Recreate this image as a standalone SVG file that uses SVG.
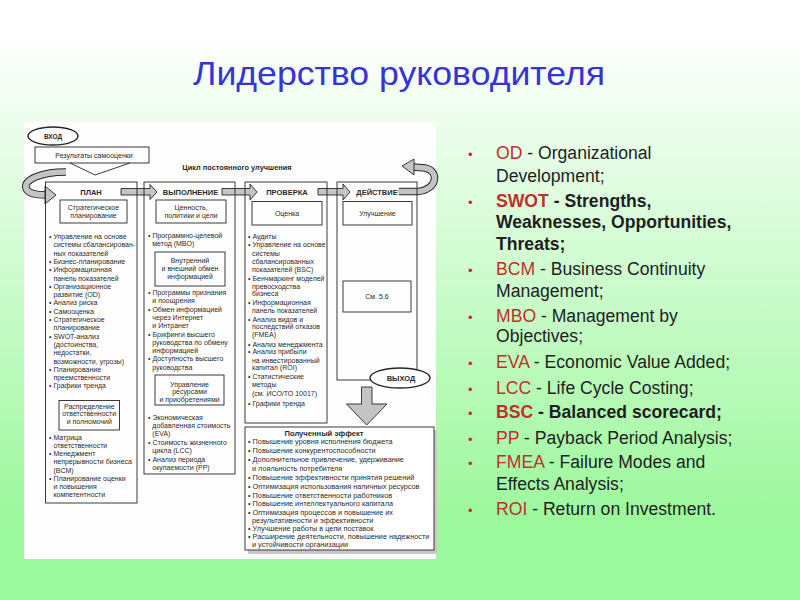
<svg xmlns="http://www.w3.org/2000/svg" width="800" height="600" viewBox="0 0 800 600">
<defs>
<linearGradient id="bg" gradientUnits="userSpaceOnUse" x1="0" y1="30" x2="0" y2="520">
<stop offset="0" stop-color="#ffffff"/>
<stop offset="1" stop-color="#9cf89c"/>
</linearGradient>
<style>
.s{font-family:"Liberation Sans",Arial,sans-serif;font-size:7px;fill:#2b2b2b}
.e{font-size:7.3px}
.b{font-weight:bold}
.c{text-anchor:middle}
.ln{fill:none;stroke:#262626;stroke-width:0.9}
.blk{fill:#c4c4c4;stroke:#262626;stroke-width:0.9;stroke-linejoin:miter}
.l{font-family:"Liberation Sans",Arial,sans-serif;font-size:17.6px;fill:#1e1e1e}
.r{fill:#c0302a}
.bul{font-family:"Liberation Sans",Arial,sans-serif;font-size:13px;fill:#c0302a}
</style>
</defs>
<rect x="0" y="0" width="800" height="600" fill="url(#bg)"/>
<g id="title">
<text x="193" y="85" textLength="412" lengthAdjust="spacingAndGlyphs" style="font-family:'Liberation Sans',Arial,sans-serif;font-size:33px;fill:#3535d6">Лидерство руководителя</text>
</g>
<g id="scan">
<rect x="24" y="122" width="412" height="437" fill="#fefefe"/>
<g id="connectors">
<path d="M70,163 L95,175 L130,163" class="ln"/>
<path d="M66,172 C40,172 24,180 26,188 C28,194 36,195 46,195" fill="none" stroke="#262626" stroke-width="7.5"/>
<path d="M66,172 C40,172 24,180 26,188 C28,194 36,195 46,195" fill="none" stroke="#c4c4c4" stroke-width="5.6"/>
<polygon class="blk" points="45,186 56,195 45,204"/>
<polygon class="blk" points="121,188.5 150,188.5 150,184.5 157,192 150,199.5 150,195 121,195"/>
<polygon class="blk" points="222,188.5 250,188.5 250,184 257,192 250,200 250,195 222,195"/>
<polygon class="blk" points="318,188.5 343,188.5 343,184 350,192 343,200 343,195 318,195"/>
<path d="M399,191.5 L418,191.5 C437,190 440,171 425,168 L413,167" fill="none" stroke="#262626" stroke-width="7.5"/>
<path d="M398,191.5 L418,191.5 C437,190 440,171 425,168 L412,167" fill="none" stroke="#c4c4c4" stroke-width="5.6"/>
<polygon class="blk" points="414,159 414,175 402,166"/>
<polygon class="blk" points="361.5,387 372,387 372,404 387,404 366.7,425 346.5,404 361.5,404"/>
</g>
<g id="vhod">
<ellipse cx="53" cy="136" rx="25" ry="9" fill="#fff" stroke="#262626" stroke-width="1.4"/>
<text class="s b c" x="53" y="138.5" style="font-size:6.5px">ВХОД</text>
</g>
<g id="results">
<rect x="35" y="147" width="114" height="16" class="ln"/>
<text class="s c" x="94" y="157.5">Результаты самооценки</text>
</g>
<text class="s b c" x="237" y="169.5" style="font-size:7.4px">Цикл постоянного улучшения</text>
<g id="plan">
<rect x="45.5" y="182" width="91.5" height="321" class="ln"/>
<text class="s b c" x="91" y="195" style="font-size:7.5px">ПЛАН</text>
<rect x="60" y="200" width="67" height="23" class="ln"/>
<text class="s c" x="93.5" y="209.5">Стратегическое</text>
<text class="s c" x="93.5" y="218">планирование</text>
<text class="s" x="49" y="239">• Управление на основе</text>
<text class="s" x="53.4" y="247.3">системы сбалансирован-</text>
<text class="s" x="53.4" y="255.6">ных показателей</text>
<text class="s" x="49" y="263.9">• Бизнес-планирование</text>
<text class="s" x="49" y="272.2">• Информационная</text>
<text class="s" x="53.4" y="280.5">панель показателей</text>
<text class="s" x="49" y="288.8">• Организационное</text>
<text class="s" x="53.4" y="297.1">развитие (OD)</text>
<text class="s" x="49" y="305.4">• Анализ риска</text>
<text class="s" x="49" y="313.7">• Самооценка</text>
<text class="s" x="49" y="322">• Стратегическое</text>
<text class="s" x="53.4" y="330.3">планирование</text>
<text class="s" x="49" y="338.6">• SWOT-анализ</text>
<text class="s" x="53.4" y="346.9">(достоинства,</text>
<text class="s" x="53.4" y="355.2">недостатки,</text>
<text class="s" x="53.4" y="363.5">возможности, угрозы)</text>
<text class="s" x="49" y="371.8">• Планирование</text>
<text class="s" x="53.4" y="380.1">преемственности</text>
<text class="s" x="49" y="388.4">• Графики тренда</text>
<rect x="59" y="400.5" width="60.5" height="29.5" class="ln"/>
<text class="s c" x="89.3" y="408.5">Распределение</text>
<text class="s c" x="89.3" y="416.2">ответственности</text>
<text class="s c" x="89.3" y="424">и полномочий</text>
<text class="s" x="49" y="439.8">• Матрица</text>
<text class="s" x="53.4" y="448">ответственности</text>
<text class="s" x="49" y="456.2">• Менеджмент</text>
<text class="s" x="53.4" y="464.4">непрерывности бизнеса</text>
<text class="s" x="53.4" y="472.6">(BCM)</text>
<text class="s" x="49" y="480.8">• Планирование оценки</text>
<text class="s" x="53.4" y="489">и повышения</text>
<text class="s" x="53.4" y="497.2">компетентности</text>
</g>
<g id="vypolnenie">
<rect x="144" y="182" width="91" height="292" class="ln"/>
<text class="s b c" x="190.5" y="194.5" style="font-size:7.5px">ВЫПОЛНЕНИЕ</text>
<rect x="156" y="200" width="70" height="23" class="ln"/>
<text class="s c" x="191" y="209.5">Ценность,</text>
<text class="s c" x="191" y="218">политики и цели</text>
<text class="s" x="148" y="237.5">• Программно-целевой</text>
<text class="s" x="152.3" y="245.5">метод (MBO)</text>
<rect x="155" y="252" width="70" height="34" class="ln"/>
<text class="s c" x="190" y="262.5">Внутренний</text>
<text class="s c" x="190" y="270.8">и внешний обмен</text>
<text class="s c" x="190" y="278.8">информацией</text>
<text class="s" x="148" y="295.2">• Программы признания</text>
<text class="s" x="152.3" y="303.4">и поощрения</text>
<text class="s" x="148" y="311.6">• Обмен информацией</text>
<text class="s" x="152.3" y="319.8">через Интернет</text>
<text class="s" x="152.3" y="328">и Интранет</text>
<text class="s" x="148" y="336.5">• Брифинги высшего</text>
<text class="s" x="152.3" y="344.7">руководства по обмену</text>
<text class="s" x="152.3" y="352.9">информацией</text>
<text class="s" x="148" y="361.3">• Доступность высшего</text>
<text class="s" x="152.3" y="369.5">руководства</text>
<rect x="155" y="375" width="69" height="30" class="ln"/>
<text class="s c" x="189.5" y="386.5">Управление</text>
<text class="s c" x="189.5" y="394.2">ресурсами</text>
<text class="s c" x="189.5" y="401.8">и приобретениями</text>
<text class="s" x="148" y="419.8">• Экономическая</text>
<text class="s" x="152.3" y="427.5">добавленная стоимость</text>
<text class="s" x="152.3" y="435.8">(EVA)</text>
<text class="s" x="148" y="444.8">• Стоимость жизненного</text>
<text class="s" x="152.3" y="452.5">цикла (LCC)</text>
<text class="s" x="148" y="461.5">• Анализ периода</text>
<text class="s" x="152.3" y="469.8">окупаемости (PP)</text>
</g>
<g id="proverka">
<rect x="245" y="182" width="82" height="241" class="ln"/>
<text class="s b c" x="287" y="194.5" style="font-size:7.5px">ПРОВЕРКА</text>
<rect x="252" y="201.5" width="70" height="23.5" class="ln"/>
<text class="s c" x="287" y="215.5">Оценка</text>
<text class="s" x="248" y="239.2">• Аудиты</text>
<text class="s" x="248" y="247.3">• Управление на основе</text>
<text class="s" x="252" y="255.6">системы</text>
<text class="s" x="252" y="263.9">сбалансированных</text>
<text class="s" x="252" y="272.2">показателей (BSC)</text>
<text class="s" x="248" y="280.8">• Бенчмаркинг моделей</text>
<text class="s" x="252" y="288.5">превосходства</text>
<text class="s" x="252" y="296.3">бизнеса</text>
<text class="s" x="248" y="304.8">• Информационная</text>
<text class="s" x="252" y="312.5">панель показателей</text>
<text class="s" x="248" y="321.5">• Анализ видов и</text>
<text class="s" x="252" y="329.2">последствий отказов</text>
<text class="s" x="252" y="336.8">(FMEA)</text>
<text class="s" x="248" y="346.5">• Анализ менеджмента</text>
<text class="s" x="248" y="354.2">• Анализ прибыли</text>
<text class="s" x="252" y="362.5">на инвестированный</text>
<text class="s" x="252" y="369.8">капитал (ROI)</text>
<text class="s" x="248" y="379.2">• Статистические</text>
<text class="s" x="252" y="386.5">методы</text>
<text class="s" x="252" y="396">(см. ИСО/ТО 10017)</text>
<text class="s" x="248" y="406">• Графики тренда</text>
</g>
<g id="deystvie">
<rect x="337" y="182" width="80" height="198" class="ln"/>
<text class="s b c" x="377" y="194.5" style="font-size:7.5px">ДЕЙСТВИЕ</text>
<rect x="343" y="201.5" width="69" height="23.5" class="ln"/>
<text class="s c" x="377.5" y="215.5">Улучшение</text>
<rect x="343" y="281" width="68" height="31" class="ln"/>
<text class="s c" x="377" y="298.5">См. 5.6</text>
</g>
<g id="vyhod">
<ellipse cx="400" cy="378" rx="30" ry="10" fill="#fff" stroke="#262626" stroke-width="1.4"/>
<text class="s b c" x="401" y="380.7" style="font-size:7.5px">ВЫХОД</text>
</g>
<g id="effect">
<rect x="248" y="430" width="189" height="124" fill="#c8c8c8"/>
<rect x="245" y="427" width="189" height="123" fill="#fff" stroke="#262626" stroke-width="0.9"/>
<text class="s b c" x="324" y="436" style="font-size:7.6px">Полученный эффект</text>
<text class="s e" x="248" y="444.2">• Повышение уровня исполнения бюджета</text>
<text class="s e" x="248" y="453.2">• Повышение конкурентоспособности</text>
<text class="s e" x="248" y="462.3">• Дополнительное привлечение, удерживание</text>
<text class="s e" x="252" y="470.8">и лояльность потребителя</text>
<text class="s e" x="248" y="479.8">• Повышение эффективности принятия решений</text>
<text class="s e" x="248" y="488.5">• Оптимизация использования наличных ресурсов</text>
<text class="s e" x="248" y="497.5">• Повышение ответственности работников</text>
<text class="s e" x="248" y="506.3">• Повышение интеллектуального капитала</text>
<text class="s e" x="248" y="514.8">• Оптимизация процессов и повышение их</text>
<text class="s e" x="252" y="522.6">результативности и эффективности</text>
<text class="s e" x="248" y="530.8">• Улучшение работы в цепи поставок</text>
<text class="s e" x="248" y="538.6">• Расширение деятельности, повышение надежности</text>
<text class="s e" x="252" y="546.6">и устойчивости организации</text>
</g>
</g>
<g id="list">
<text class="bul" x="468" y="159">•</text>
<text class="l" x="496" y="159"><tspan class="r">OD</tspan> - Organizational</text>
<text class="l" x="496" y="181.5">Development;</text>
<text class="bul" x="468" y="206.5">•</text>
<text class="l b" x="496" y="206.5"><tspan class="r">SWOT</tspan> - Strengths,</text>
<text class="l b" x="496" y="228">Weaknesses, Opportunities,</text>
<text class="l b" x="496" y="249.5">Threats;</text>
<text class="bul" x="468" y="275">•</text>
<text class="l" x="496" y="275"><tspan class="r">BCM</tspan> - Business Continuity</text>
<text class="l" x="496" y="296.5">Management;</text>
<text class="bul" x="468" y="321.5">•</text>
<text class="l" x="496" y="321.5"><tspan class="r">MBO</tspan> - Management by</text>
<text class="l" x="496" y="342">Objectives;</text>
<text class="bul" x="468" y="368">•</text>
<text class="l" x="496" y="368"><tspan class="r">EVA</tspan> - Economic Value Added;</text>
<text class="bul" x="468" y="394">•</text>
<text class="l" x="496" y="394"><tspan class="r">LCC</tspan> - Life Cycle Costing;</text>
<text class="bul" x="468" y="418">•</text>
<text class="l b" x="496" y="418"><tspan class="r">BSC</tspan> - Balanced scorecard;</text>
<text class="bul" x="468" y="444">•</text>
<text class="l" x="496" y="444"><tspan class="r">PP</tspan> - Payback Period Analysis;</text>
<text class="bul" x="468" y="468">•</text>
<text class="l" x="496" y="468"><tspan class="r">FMEA</tspan> - Failure Modes and</text>
<text class="l" x="496" y="489.5">Effects Analysis;</text>
<text class="bul" x="468" y="515">•</text>
<text class="l" x="496" y="515"><tspan class="r">ROI</tspan> - Return on Investment.</text>
</g>
</svg>
